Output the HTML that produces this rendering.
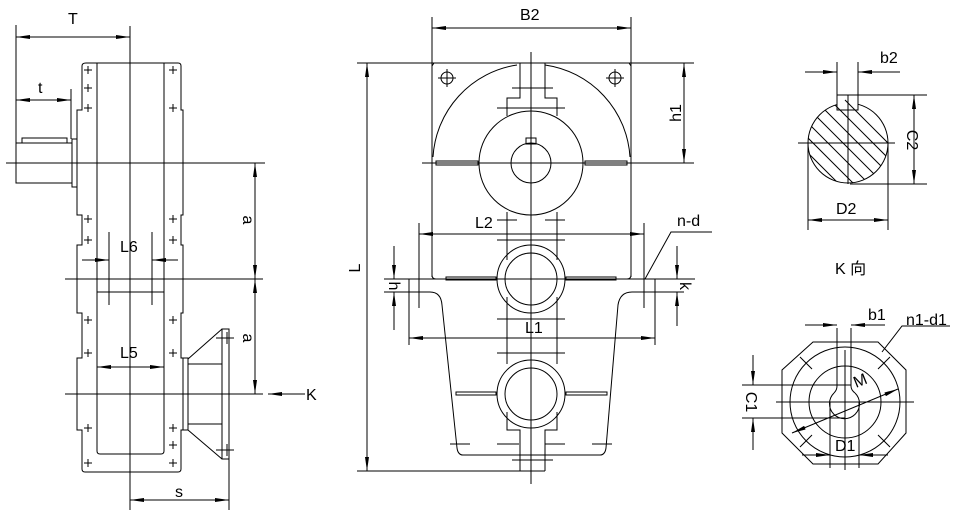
<!DOCTYPE html>
<html><head><meta charset="utf-8"><style>
html,body{margin:0;padding:0;background:#fff;}
svg{display:block}
text{font-family:"Liberation Sans","Noto Sans CJK SC",sans-serif;font-size:16px;fill:#000}
</style></head><body>
<svg width="956" height="518" viewBox="0 0 956 518" xmlns="http://www.w3.org/2000/svg">
<defs>
<marker id="a" viewBox="0 0 14 4" refX="14" refY="2" markerWidth="14" markerHeight="4" markerUnits="userSpaceOnUse" orient="auto-start-reverse"><path d="M14,2 L0,0 L0,4 Z" fill="#000"/></marker>
</defs>
<g stroke="#000" stroke-width="1" fill="none">
<!-- LEFT VIEW -->
<line x1="16" y1="25" x2="16" y2="143"/>
<line x1="130" y1="26" x2="130" y2="510"/>
<line x1="16" y1="37" x2="130" y2="37" marker-start="url(#a)" marker-end="url(#a)"/>
<line x1="16" y1="100" x2="71" y2="100" marker-start="url(#a)" marker-end="url(#a)"/>
<line x1="71" y1="89" x2="71" y2="139"/>
<path d="M86,63 H178 Q181,63 181,66 V110 H183 V215 H181 V245 H183 V313 H181 V358 H183 V430 H181 V469 Q181,472 178,472 H85 Q82,472 82,469 V430 H77 V358 H82 V313 H77 V245 H82 V215 H77 V110 H82 V66 Q82,63 86,63 Z"/>
<path d="M97,63 V451 Q97,454 100,454 H161 Q164,454 164,451 V63"/>
<rect x="16" y="143" width="56" height="40"/>
<rect x="22" y="138" width="45" height="5"/>
<rect x="72" y="139" width="5" height="48"/>
<line x1="6" y1="163" x2="265" y2="163"/>
<line x1="65" y1="279" x2="263" y2="279"/>
<line x1="65" y1="394" x2="263" y2="394"/>
<line x1="255" y1="163" x2="255" y2="279" marker-start="url(#a)" marker-end="url(#a)"/>
<line x1="255" y1="279" x2="255" y2="394" marker-start="url(#a)" marker-end="url(#a)"/>
<line x1="109" y1="232" x2="109" y2="305"/>
<line x1="152" y1="232" x2="152" y2="305"/>
<line x1="82" y1="260" x2="109" y2="260" marker-end="url(#a)"/>
<line x1="152" y1="260" x2="178" y2="260" marker-start="url(#a)"/>
<line x1="97" y1="292" x2="164" y2="292"/>
<line x1="97" y1="367" x2="164" y2="367" marker-start="url(#a)" marker-end="url(#a)"/>
<rect x="183" y="358" width="5" height="72"/>
<path d="M188,359 L222,329 M188,430 L222,459 M188,364 H222 M188,424 H222"/>
<rect x="222" y="329" width="7" height="130"/>
<path d="M216,338 H234 M227,332 V344 M216,450 H234 M227,444 V456"/>
<line x1="229" y1="459" x2="229" y2="510"/>
<line x1="130" y1="500" x2="229" y2="500" marker-start="url(#a)" marker-end="url(#a)"/>
<line x1="268" y1="394" x2="305" y2="394" marker-start="url(#a)"/>
<path d="M84,70h8M88,66v8 M84,88h8M88,84v8 M84,108h8M88,104v8 M84,219h8M88,215v8 M84,240h8M88,236v8 M84,320h8M88,316v8 M84,353h8M88,349v8 M84,428h8M88,424v8 M84,463h8M88,459v8
M169,70h8M173,66v8 M169,108h8M173,104v8 M169,219h8M173,215v8 M169,240h8M173,236v8 M169,320h8M173,316v8 M169,353h8M173,349v8 M169,428h8M173,424v8 M169,445h8M173,441v8 M169,463h8M173,459v8"/>

<!-- MIDDLE VIEW -->
<line x1="432" y1="17" x2="432" y2="277"/>
<line x1="631" y1="17" x2="631" y2="277"/>
<line x1="432" y1="28" x2="631" y2="28" marker-start="url(#a)" marker-end="url(#a)"/>
<line x1="357" y1="63" x2="694" y2="63"/>
<line x1="357" y1="471" x2="545" y2="471"/>
<line x1="367" y1="63" x2="367" y2="471" marker-start="url(#a)" marker-end="url(#a)"/>
<line x1="684" y1="63" x2="684" y2="163" marker-start="url(#a)" marker-end="url(#a)"/>
<path d="M434,63 L432,66 M629,63 L631,66"/>
<path d="M433,157 A99,99 0 0 1 517,65 M545,65 A99,99 0 0 1 630,157"/>
<circle cx="447" cy="78" r="6"/><path d="M438,78h18M447,69v18"/>
<circle cx="615" cy="78" r="6"/><path d="M606,78h18M615,69v18"/>
<line x1="531" y1="52" x2="531" y2="484"/>
<path d="M520,63 V98 H507 V116 M545,63 V98 H557 V116"/>
<path d="M507,212 V260 M557,212 V260 M507,297 V364 M557,297 V364 M507,412 V430 H520 V471 M557,412 V430 H545 V471"/>
<circle cx="531" cy="163" r="52"/>
<circle cx="531" cy="163" r="20"/>
<rect x="526" y="138" width="10" height="6"/>
<rect x="436" y="161" width="42" height="4"/>
<rect x="585" y="161" width="42" height="4"/>
<line x1="422" y1="163" x2="694" y2="163"/>
<path d="M512,88h41 M497,108h68 M497,220h20 M545,220h20 M497,240h68 M497,319h68 M497,353h68 M497,444h22 M545,444h20 M512,460h41 M450,444h20 M592,444h20"/>
<circle cx="531" cy="279" r="34"/><circle cx="531" cy="279" r="26"/>
<circle cx="531" cy="394" r="34"/><circle cx="531" cy="394" r="26"/>
<rect x="446" y="277" width="50" height="3"/>
<rect x="566" y="277" width="50" height="3"/>
<rect x="456" y="392" width="40" height="3"/>
<rect x="566" y="392" width="41" height="3"/>
<line x1="384" y1="279" x2="695" y2="279"/>
<path d="M432,275 Q432,279 436,279 M631,275 Q631,279 627,279"/>
<path d="M408,292 H430 Q441,292 442,305 L457,448 Q458,455 463,455 H600 Q605,455 606,448 L618,305 Q620,292 632,292 H655"/>
<line x1="419" y1="223" x2="419" y2="308"/>
<line x1="644" y1="223" x2="644" y2="308"/>
<line x1="419" y1="234" x2="644" y2="234" marker-start="url(#a)" marker-end="url(#a)"/>
<line x1="409" y1="279" x2="409" y2="345"/>
<line x1="655" y1="279" x2="655" y2="345"/>
<line x1="409" y1="338" x2="655" y2="338" marker-start="url(#a)" marker-end="url(#a)"/>
<line x1="394" y1="246" x2="394" y2="279" marker-end="url(#a)"/>
<line x1="394" y1="292" x2="394" y2="330" marker-start="url(#a)"/>
<line x1="384" y1="292" x2="408" y2="292"/>
<line x1="677" y1="246" x2="677" y2="279" marker-end="url(#a)"/>
<line x1="677" y1="292" x2="677" y2="326" marker-start="url(#a)"/>
<line x1="655" y1="292" x2="684" y2="292"/>
<path d="M645,279 L671,232 H712"/>

<!-- RIGHT VIEW -->
<circle cx="848" cy="143" r="40"/>
<rect x="837" y="95" width="21" height="15" fill="#fff"/>
<line x1="798" y1="143" x2="895" y2="143"/>
<line x1="848" y1="95" x2="848" y2="184"/>
<clipPath id="c"><circle cx="848" cy="143" r="40"/><rect x="837" y="95" width="21" height="15"/></clipPath>
<g clip-path="url(#c)">
<path d="M770,100 L890,220 M785,100 L905,220 M800,100 L920,220 M815,100 L935,220 M830,100 L950,220 M845,100 L965,220 M755,100 L875,220 M740,100 L860,220 M725,100 L845,220 M710,100 L830,220"/>
</g>
<path d="M837,62 V95 M858,62 V95"/>
<line x1="805" y1="72" x2="837" y2="72" marker-end="url(#a)"/>
<line x1="858" y1="72" x2="900" y2="72" marker-start="url(#a)"/>
<path d="M858,95 H927 M850,184 H927"/>
<line x1="914" y1="95" x2="914" y2="184" marker-start="url(#a)" marker-end="url(#a)"/>
<path d="M808,143 V230 M888,143 V230"/>
<line x1="808" y1="220" x2="888" y2="220" marker-start="url(#a)" marker-end="url(#a)"/>
<path d="M813,342 H878 L906,370 V433 L878,464 H813 L782,433 V370 Z"/>
<circle cx="845" cy="402" r="55"/>
<circle cx="845" cy="402" r="36"/>
<path d="M834,393 A15,15 0 1 0 855,393"/>
<path d="M834,393 Q837,390 837,386 V328 M855,393 Q851,390 851,386 V328 M845,350 V470"/>
<path d="M800,357 L812,369 M890,357 L878,369 M800,447 L812,435 M890,447 L878,435"/>
<line x1="776" y1="402" x2="914" y2="402"/>
<line x1="805" y1="325" x2="837" y2="325" marker-end="url(#a)"/>
<line x1="851" y1="325" x2="885" y2="325" marker-start="url(#a)"/>
<path d="M742,385 H851 M742,418 H845"/>
<line x1="753" y1="355" x2="753" y2="385" marker-end="url(#a)"/>
<line x1="753" y1="418" x2="753" y2="450" marker-start="url(#a)"/>
<path d="M830,402 V468 M859,402 V468"/>
<line x1="802" y1="455" x2="830" y2="455" marker-end="url(#a)"/>
<line x1="859" y1="455" x2="888" y2="455" marker-start="url(#a)"/>
<line x1="792" y1="433" x2="898" y2="389" marker-start="url(#a)" marker-end="url(#a)"/>
<path d="M882,352 L902,326 H950"/>
</g>
<g>
<text x="68" y="24">T</text>
<text x="38" y="93">t</text>
<text x="120" y="252">L6</text>
<text x="120" y="358">L5</text>
<text x="175" y="497">s</text>
<text x="306" y="400">K</text>
<text transform="translate(243,220) rotate(90)" text-anchor="middle">a</text>
<text transform="translate(243,338) rotate(90)" text-anchor="middle">a</text>
<text x="520" y="20">B2</text>
<text transform="translate(681,113) rotate(-90)" text-anchor="middle">h1</text>
<text transform="translate(360,268) rotate(-90)" text-anchor="middle">L</text>
<text x="475" y="228">L2</text>
<text x="525" y="333">L1</text>
<text x="677" y="226">n-d</text>
<text transform="translate(389,286) rotate(90)" text-anchor="middle">h</text>
<text transform="translate(680,286) rotate(90)" text-anchor="middle">k</text>
<text x="880" y="63">b2</text>
<text transform="translate(907,140) rotate(90)" text-anchor="middle">C2</text>
<text x="836" y="214">D2</text>
<text x="835" y="274">K 向</text>
<text x="868" y="320">b1</text>
<text x="906" y="325">n1-d1</text>
<text transform="translate(746,402) rotate(90)" text-anchor="middle">C1</text>
<text x="835" y="451">D1</text>
<text transform="translate(856,388) rotate(-22)">M</text>
</g>
</svg>
</body></html>
